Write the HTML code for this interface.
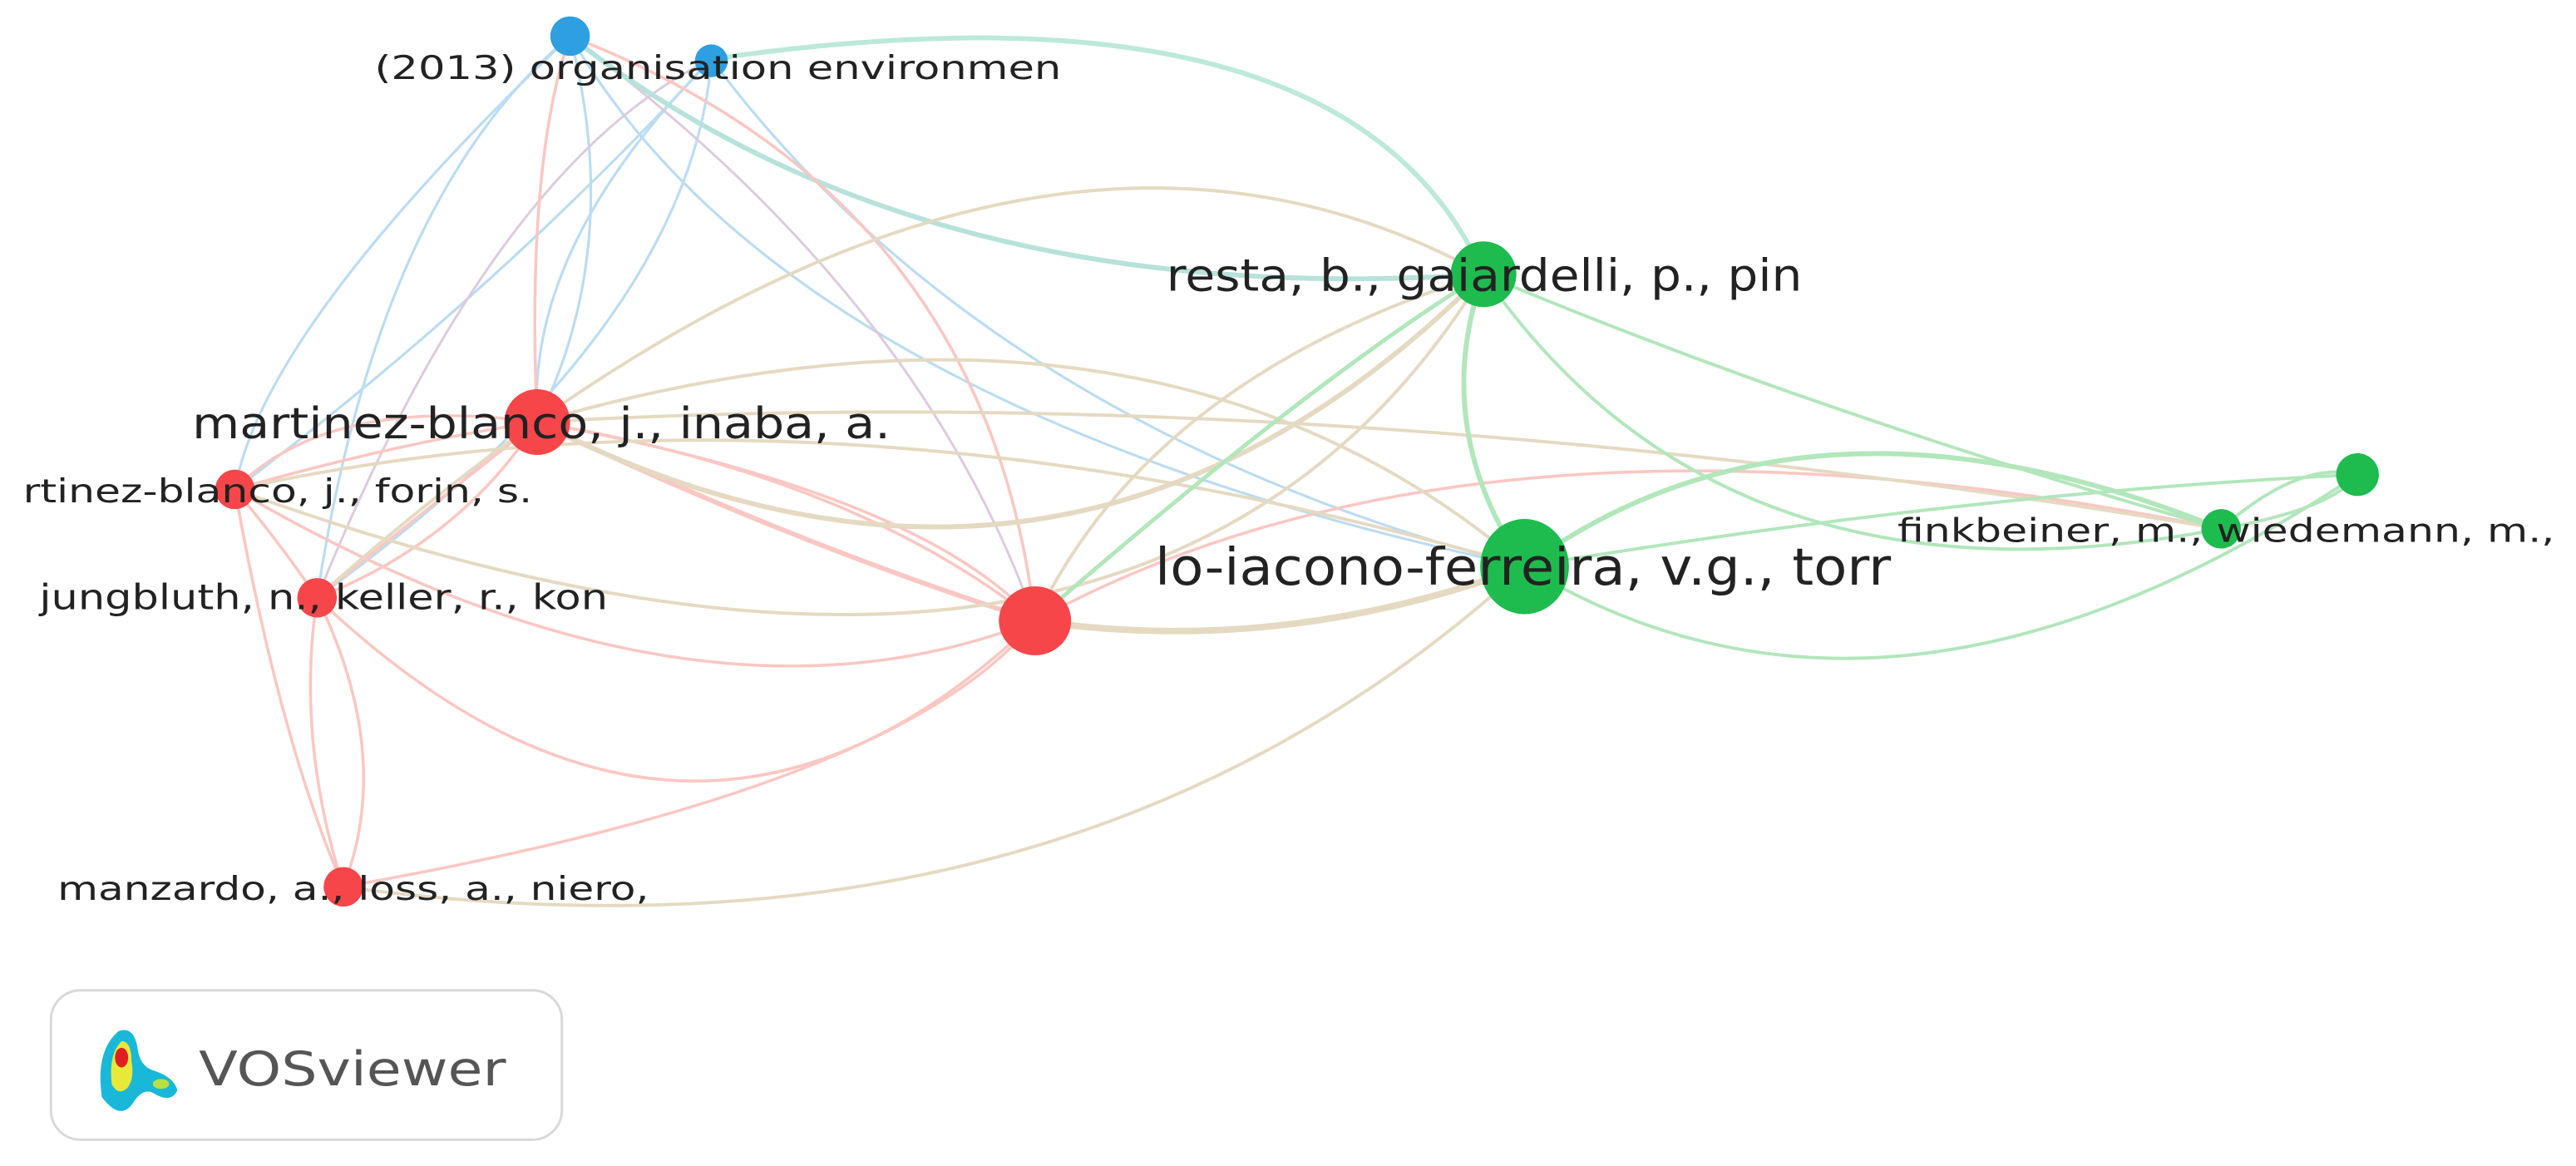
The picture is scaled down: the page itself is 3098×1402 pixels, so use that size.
<!DOCTYPE html>
<html><head><meta charset="utf-8"><style>html,body{margin:0;padding:0;background:#fff}svg{display:block}</style></head>
<body>
<svg width="3098" height="1402" viewBox="0 0 1568 710" preserveAspectRatio="none" xmlns="http://www.w3.org/2000/svg">
<g fill="none" stroke-linecap="round" opacity="0.6">
<g stroke="#8fc6e8" stroke-width="1.6">
<path d="M347,22 Q230,120 193,364"/>
<path d="M347,22 Q380,150 327,257"/>
<path d="M433,36 Q300,180 143,298"/>
<path d="M433,36 Q420,200 193,364"/>
<path d="M347,22 Q480,250 928,345"/>
<path d="M433,36 Q600,260 928,345"/>
<path d="M347,22 Q160,200 143,298"/>
<path d="M433,36 Q320,150 327,257"/>
</g>
<g stroke="#c8a9c8" stroke-width="1.5">
<path d="M347,22 Q560,180 630,378"/>
<path d="M433,36 Q300,100 193,364"/>
</g>
<path d="M347,22 Q560,190 903,167" stroke="#86d0c4" stroke-width="3"/>
<path d="M433,36 Q820,-20 903,167" stroke="#90dcc0" stroke-width="3"/>
<g stroke="#f7a29a" stroke-width="1.8">
<path d="M327,257 Q240,270 143,298"/>
<path d="M327,257 Q260,310 193,364"/>
<path d="M327,257 Q200,240 143,298"/>
<path d="M327,257 Q280,330 193,364"/>
<path d="M143,298 Q170,330 193,364"/>
<path d="M143,298 Q170,450 209,540"/>
<path d="M193,364 Q180,450 209,540"/>
<path d="M193,364 Q240,460 209,540"/>
<path d="M193,364 Q420,580 630,378"/>
<path d="M143,298 Q420,460 630,378"/>
<path d="M209,540 Q550,480 630,378"/>
<path d="M327,257 Q520,290 630,378"/>
<path d="M327,257 Q560,300 630,378"/>
<path d="M327,257 Q480,330 630,378" stroke-width="3"/>
<path d="M630,378 Q600,120 347,22"/>
<path d="M630,378 Q900,230 1352,322"/>
<path d="M327,257 Q320,100 347,22"/>
</g>
<g stroke="#d4c09a" stroke-width="2">
<path d="M327,257 Q700,150 928,345"/>
<path d="M327,257 Q650,420 903,167" stroke-width="3"/>
<path d="M193,364 Q600,0 903,167"/>
<path d="M143,298 Q500,220 928,345"/>
<path d="M143,298 Q700,500 903,167"/>
<path d="M630,378 Q700,230 903,167"/>
<path d="M630,378 Q780,400 928,345" stroke-width="4"/>
<path d="M209,540 Q650,600 928,345"/>
<path d="M327,257 Q800,230 1352,322"/>
</g>
<g stroke="#7fd68f" stroke-width="2">
<path d="M903,167 Q870,260 928,345" stroke-width="3"/>
<path d="M903,167 Q1100,250 1352,322"/>
<path d="M903,167 Q1050,380 1352,322"/>
<path d="M928,345 Q1100,220 1352,322" stroke-width="3"/>
<path d="M928,345 Q1150,480 1435,289"/>
<path d="M928,345 Q1200,300 1435,289"/>
<path d="M1352,322 Q1400,280 1435,289"/>
<path d="M1352,322 Q1420,310 1435,289"/>
<path d="M630,378 Q800,230 903,167" stroke-width="2.5"/>
</g>
</g>
<circle cx="347" cy="22" r="12" fill="#2e9fe0"/>
<circle cx="433" cy="37" r="10" fill="#2e9fe0"/>
<circle cx="903" cy="167" r="20" fill="#1ebb4e"/>
<ellipse cx="928" cy="345" rx="27" ry="29" fill="#1ebb4e"/>
<circle cx="1352" cy="322" r="12" fill="#1ebb4e"/>
<circle cx="1435" cy="289" r="13" fill="#1ebb4e"/>
<circle cx="327" cy="257" r="20" fill="#f7464a"/>
<circle cx="143" cy="298" r="12" fill="#f7464a"/>
<circle cx="193" cy="364" r="12" fill="#f7464a"/>
<ellipse cx="630" cy="378" rx="22" ry="21" fill="#f7464a"/>
<circle cx="209" cy="540" r="12" fill="#f7464a"/>
<g font-family="'DejaVu Sans','Liberation Sans',sans-serif" fill="#222">
<text x="228" y="48" font-size="20" textLength="418" lengthAdjust="spacingAndGlyphs">(2013) organisation environmen</text>
<text x="710" y="177" font-size="27" textLength="387" lengthAdjust="spacingAndGlyphs">resta, b., gaiardelli, p., pin</text>
<text x="117" y="267" font-size="26" textLength="425" lengthAdjust="spacingAndGlyphs">martinez-blanco, j., inaba, a.</text>
<text x="14" y="306" font-size="20" textLength="310" lengthAdjust="spacingAndGlyphs">rtinez-blanco, j., forin, s.</text>
<text x="24" y="371" font-size="21" textLength="346" lengthAdjust="spacingAndGlyphs">jungbluth, n., keller, r., kon</text>
<text x="703" y="356" font-size="31" textLength="448" lengthAdjust="spacingAndGlyphs">lo-iacono-ferreira, v.g., torr</text>
<text x="1155" y="330" font-size="20" textLength="400" lengthAdjust="spacingAndGlyphs">finkbeiner, m., wiedemann, m.,</text>
<text x="35" y="548" font-size="20" textLength="360" lengthAdjust="spacingAndGlyphs">manzardo, a., loss, a., niero,</text>
</g>
<rect x="31" y="603" width="311" height="91" rx="18" fill="#fff" stroke="#d8d8d8" stroke-width="1.5"/>
<g>
<path d="M62,668 Q58,640 72,628 Q82,624 84,640 Q86,650 94,652 Q106,656 108,664 Q104,672 94,666 Q88,662 82,670 Q74,684 62,668Z" fill="#19b8d8"/>
<path d="M68,660 Q66,642 74,634 Q80,634 80,646 Q82,656 78,662 Q72,668 68,660Z" fill="#e8e838"/>
<ellipse cx="74" cy="644" rx="4" ry="6" fill="#e02020"/>
<ellipse cx="98" cy="660" rx="5" ry="3" fill="#b8e040"/>
</g>
<text x="121" y="661" font-family="'DejaVu Sans','Liberation Sans',sans-serif" font-size="29" fill="#555" textLength="187" lengthAdjust="spacingAndGlyphs">VOSviewer</text>
</svg>
</body></html>
